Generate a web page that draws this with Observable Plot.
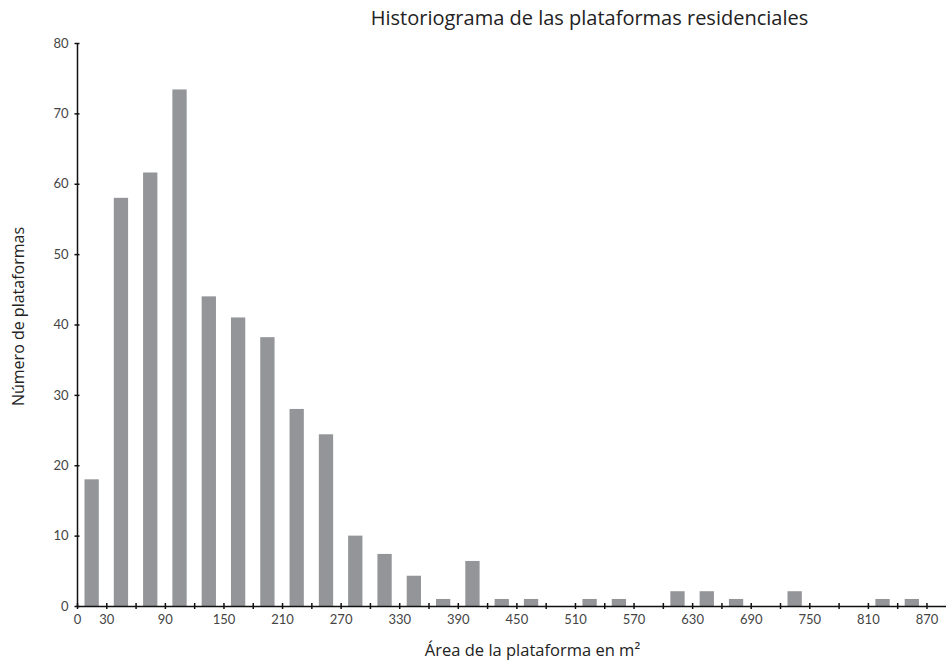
<!DOCTYPE html>
<html>
<head>
<meta charset="utf-8">
<script src="https://cdn.jsdelivr.net/npm/d3@7"></script>
<script src="https://cdn.jsdelivr.net/npm/@observablehq/plot@0.6"></script>
<style>
  body { margin: 0; background: #fff; }
  #chart { width: 948px; height: 664px; }
</style>
</head>
<body>
<div id="chart"></div>
<script>
// Bin start (m²), each bin is 30 m² wide
const binStarts = [0, 30, 60, 90, 120, 150, 180, 210, 240, 270, 300, 330, 360, 390, 420, 450, 480, 510, 540, 570, 600, 630, 660, 690, 720, 750, 780, 810, 840];
const binWidth = 30;
// Number of platforms per bin
const counts = [18, 58, 61.6, 73.4, 44, 41, 38.2, 28, 24.4, 10, 7.4, 4.3, 1, 6.4, 1, 1, 0, 1, 1, 0, 2.1, 2.1, 1, 0, 2.1, 0, 0, 1, 1];

const xTicks = [0, 30, 60, 90, 120, 150, 180, 210, 240, 270, 300, 330, 360, 390, 420, 450, 480, 510, 540, 570, 600, 630, 660, 690, 720, 750, 780, 810, 840, 870];
const xTickLabels = ["0", "30", "", "90", "", "150", "", "210", "", "270", "", "330", "", "390", "", "450", "", "510", "", "570", "", "630", "", "690", "", "750", "", "810", "", "870"];
const yTicks = [0, 10, 20, 30, 40, 50, 60, 70, 80];

const title = "Historiograma de las plataformas residenciales";
const xLabel = "Área de la plataforma en m²";
const yLabel = "Número de plataformas";

const bins = binStarts.map((s, i) => ({start: s, end: s + binWidth, count: counts[i]}));
const xLabelMap = new Map(xTicks.map((t, i) => [t, xTickLabels[i]]));

const chart = Plot.plot({
  width: 948,
  height: 664,
  marginLeft: 77,
  marginRight: 2,
  marginTop: 43,
  marginBottom: 58,
  style: {fontFamily: "Lato, 'Open Sans', sans-serif", fontSize: "13px", color: "#444", background: "#fff"},
  x: {type: "linear", domain: [0, 890], axis: null},
  y: {domain: [0, 80], axis: null},
  marks: [
    Plot.rectY(bins, {x1: "start", x2: "end", y: "count", fill: "#939598", insetLeft: 7.5, insetRight: 7.5}),
    // axis lines
    Plot.ruleY([0], {stroke: "#111", strokeWidth: 1.5}),
    Plot.ruleX([0], {stroke: "#111", strokeWidth: 1.5}),
    // crossing ticks
    Plot.ruleX(xTicks, {x: d => d, y1: 0, y2: 0, insetTop: -3, insetBottom: -3, stroke: "#111", strokeWidth: 1.5}),
    Plot.ruleY(yTicks, {y: d => d, x1: 0, x2: 0, insetLeft: -2.5, insetRight: -2.5, stroke: "#111", strokeWidth: 1.5}),
    // tick labels
    Plot.axisX({ticks: xTicks, tickSize: 0, tickPadding: 8, tickFormat: d => xLabelMap.get(d), fontSize: 13, fill: "#444", label: null}),
    Plot.axisY({ticks: yTicks, tickSize: 0, tickPadding: 9, fontSize: 13, fill: "#444", label: null}),
    // titles
    Plot.text([title], {frameAnchor: "top", dx: 77.5, dy: -25, lineAnchor: "middle", textAnchor: "middle", fontSize: 20, fontFamily: "'Open Sans', sans-serif", fill: "#222"}),
    Plot.text([xLabel], {frameAnchor: "bottom", dx: 20.5, dy: 44, lineAnchor: "middle", textAnchor: "middle", fontSize: 16.5, fontFamily: "'Open Sans', sans-serif", fill: "#222"}),
    Plot.text([yLabel], {frameAnchor: "left", dx: -59, dy: -8.5, rotate: -90, lineAnchor: "middle", textAnchor: "middle", fontSize: 16, fontFamily: "'Open Sans', sans-serif", fill: "#222"})
  ]
});

document.getElementById("chart").appendChild(chart);
</script>
</body>
</html>
